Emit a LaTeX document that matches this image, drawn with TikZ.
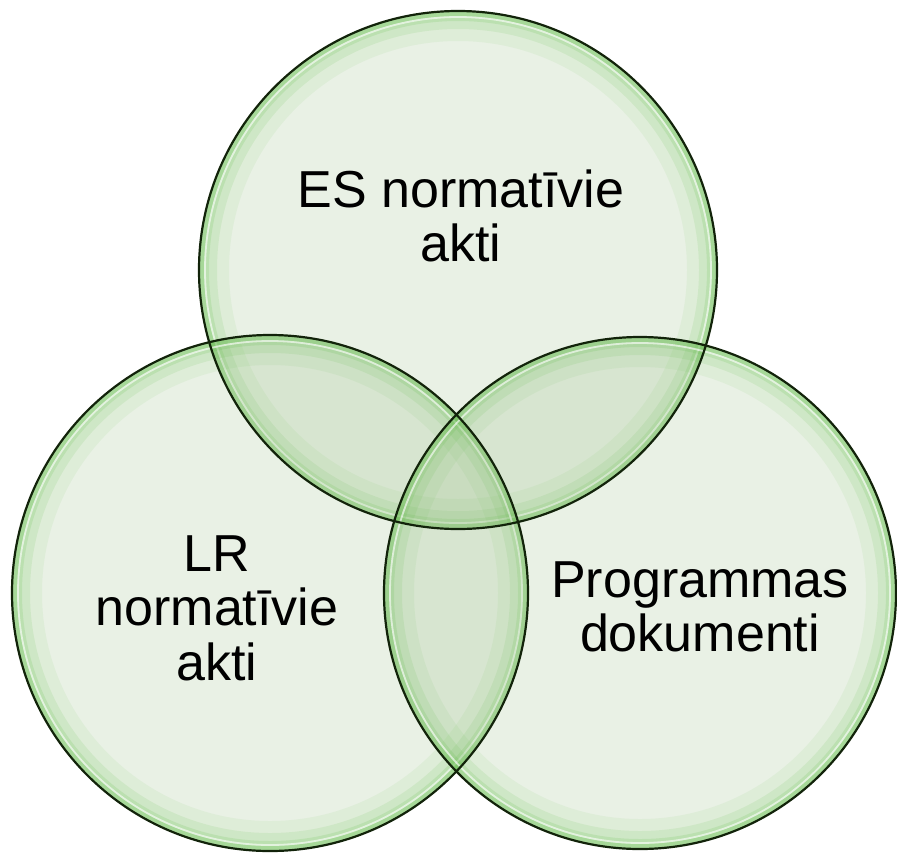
\documentclass[tikz,border=0pt]{standalone}
\usepackage{fontspec}
\setmainfont{Liberation Sans}
\definecolor{basefill}{RGB}{145,185,125}
\definecolor{glowgreen}{RGB}{95,190,70}
\definecolor{rimgreen}{RGB}{18,35,10}
\tikzset{
  vbase/.style={fill=basefill, fill opacity=0.2},
  vrim/.style={draw=rimgreen, line width=2.2pt},
  lbl/.style={align=center, font=\fontsize{52}{54.5}\selectfont, text=black, inner sep=0pt}
}
\newcommand\myvenncircle[2]{%
  \fill[vbase] (#1) circle [radius=#2pt];
  \foreach \w/\o in {30/0.08,18/0.12,10/0.17,5/0.22}{%
    \draw[glowgreen, line width=\w pt, draw opacity=\o] (#1) circle [radius={(#2-\w/2)*1pt}];
  }%
  \draw[white, line width=1.8pt, draw opacity=0.6] (#1) circle [radius={(#2-6)*1pt}];
}
\begin{document}
\begin{tikzpicture}[x=1pt,y=-1pt]
  \fill[white] (0,0) rectangle (897,852);
  \useasboundingbox (0,0) rectangle (897,852);
  \coordinate (ctop) at (458,270);
  \coordinate (cleft) at (270,593);
  \coordinate (cright) at (640,593);
  \myvenncircle{ctop}{259}
  \myvenncircle{cleft}{258}
  \myvenncircle{cright}{256}
  \draw[vrim] (ctop) circle [radius=259pt];
  \draw[vrim] (cleft) circle [radius=258pt];
  \draw[vrim] (cright) circle [radius=256pt];
  \node[lbl] (es) at (461,216) {ES normatīvie\\akti};
  \node[lbl] (lr) at (217,608) {LR\\normatīvie\\akti};
  \node[lbl] (prog) at (700,607) {Programmas\\dokumenti};
\end{tikzpicture}
\end{document}
